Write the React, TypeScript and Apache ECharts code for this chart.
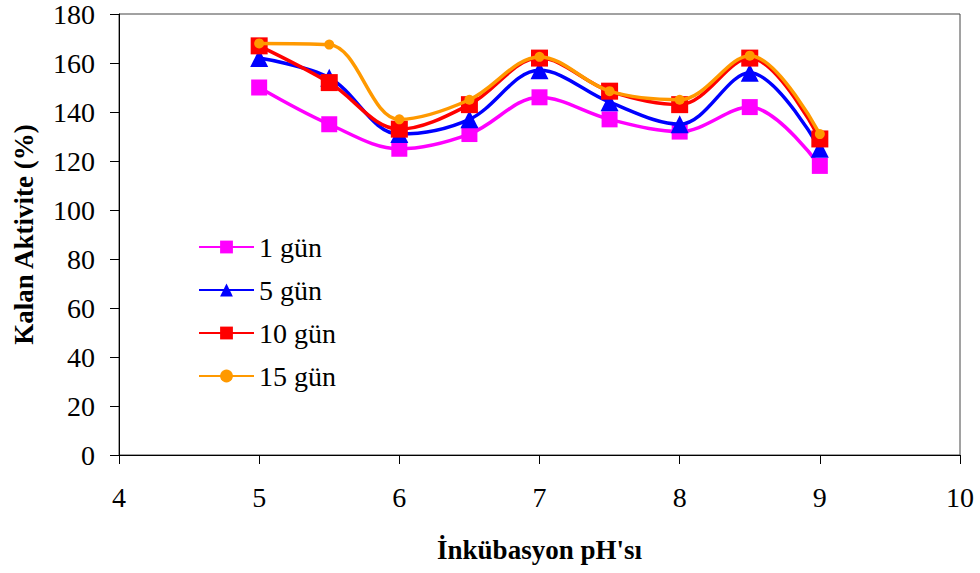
import React, { useEffect, useRef } from "react";
import * as echarts from "echarts";

const phValues = [5, 5.5, 6, 6.5, 7, 7.5, 8, 8.5, 9];
const gun1 = [150, 135, 125, 131, 146, 137, 132, 142, 118];
const gun5 = [162, 154, 131, 137, 157, 144, 135, 156, 125];
const gun10 = [167, 152, 133, 143, 162, 148.5, 143, 162, 129];
const gun15 = [168, 167.5, 137, 145, 162.5, 148.5, 145, 163, 131];
const seriesNames = ["1 gün", "5 gün", "10 gün", "15 gün"];
const xTicks = { min: 4, max: 10, interval: 1 };
const yTicks = { min: 0, max: 180, interval: 20 };

const FONT = "Liberation Serif";

export default function App() {
  const ref = useRef<HTMLDivElement>(null);
  useEffect(() => {
    if (!ref.current) return;
    const chart = echarts.init(ref.current, undefined, { renderer: "svg" });
    const pair = (arr: number[]) => phValues.map((x, i) => [x, arr[i]]);
    const mk = (
      name: string,
      data: number[],
      color: string,
      symbol: string,
      size: number,
      z: number
    ) => ({
      name,
      type: "line",
      data: pair(data),
      smooth: 0.35,
      symbol,
      symbolSize: size,
      z,
      lineStyle: { color, width: 3.5 },
      itemStyle: { color },
    });
    const labelRich = { v: { fontFamily: FONT, fontSize: 28, color: "#000" } };
    chart.setOption({
      animation: false,
      backgroundColor: "#ffffff",
      textStyle: { fontFamily: FONT },
      grid: {
        left: 119,
        right: 20,
        top: 12,
        bottom: 118,
        show: true,
        borderColor: "#444",
        borderWidth: 1,
      },
      legend: {
        orient: "vertical",
        left: 193,
        top: 228,
        itemWidth: 55,
        itemHeight: 16,
        itemGap: 15,
        data: seriesNames,
        textStyle: { fontFamily: FONT, fontSize: 28, color: "#000", lineHeight: 28 },
      },
      xAxis: {
        type: "value",
        min: xTicks.min,
        max: xTicks.max,
        interval: xTicks.interval,
        name: "İnkübasyon pH'sı",
        nameLocation: "middle",
        nameGap: 81,
        nameTextStyle: { fontFamily: FONT, fontSize: 27, fontWeight: "bold", color: "#000" },
        axisLine: { show: true, onZero: false, lineStyle: { color: "#000", width: 1 } },
        axisTick: { show: true, length: 9, lineStyle: { color: "#000" } },
        axisLabel: {
          fontFamily: FONT,
          fontSize: 28,
          color: "#000",
          margin: 28,
          formatter: (v: number) => `{v|${v}}`,
          rich: labelRich,
        },
        splitLine: { show: false },
      },
      yAxis: {
        type: "value",
        min: yTicks.min,
        max: yTicks.max,
        interval: yTicks.interval,
        name: "Kalan Aktivite (%)",
        nameLocation: "middle",
        nameGap: 82,
        nameRotate: 90,
        nameTextStyle: { fontFamily: FONT, fontSize: 27, fontWeight: "bold", color: "#000" },
        axisLine: { show: true, lineStyle: { color: "#000", width: 1 } },
        axisTick: { show: true, length: 9, lineStyle: { color: "#000" } },
        axisLabel: {
          fontFamily: FONT,
          fontSize: 28,
          color: "#000",
          margin: 24,
          formatter: (v: number) => `{v|${v}}`,
          rich: labelRich,
        },
        splitLine: { show: false },
      },
      series: [
        mk(seriesNames[0], gun1, "#ff00ff", "rect", 16, 2),
        mk(seriesNames[1], gun5, "#0000ff", "triangle", 18, 3),
        mk(seriesNames[2], gun10, "#ff0000", "rect", 17, 4),
        mk(seriesNames[3], gun15, "#ff9900", "circle", 10, 5),
      ],
    });
    return () => chart.dispose();
  }, []);
  return <div ref={ref} style={{ width: 980, height: 573, position: "absolute", left: 0, top: 0 }} />;
}
